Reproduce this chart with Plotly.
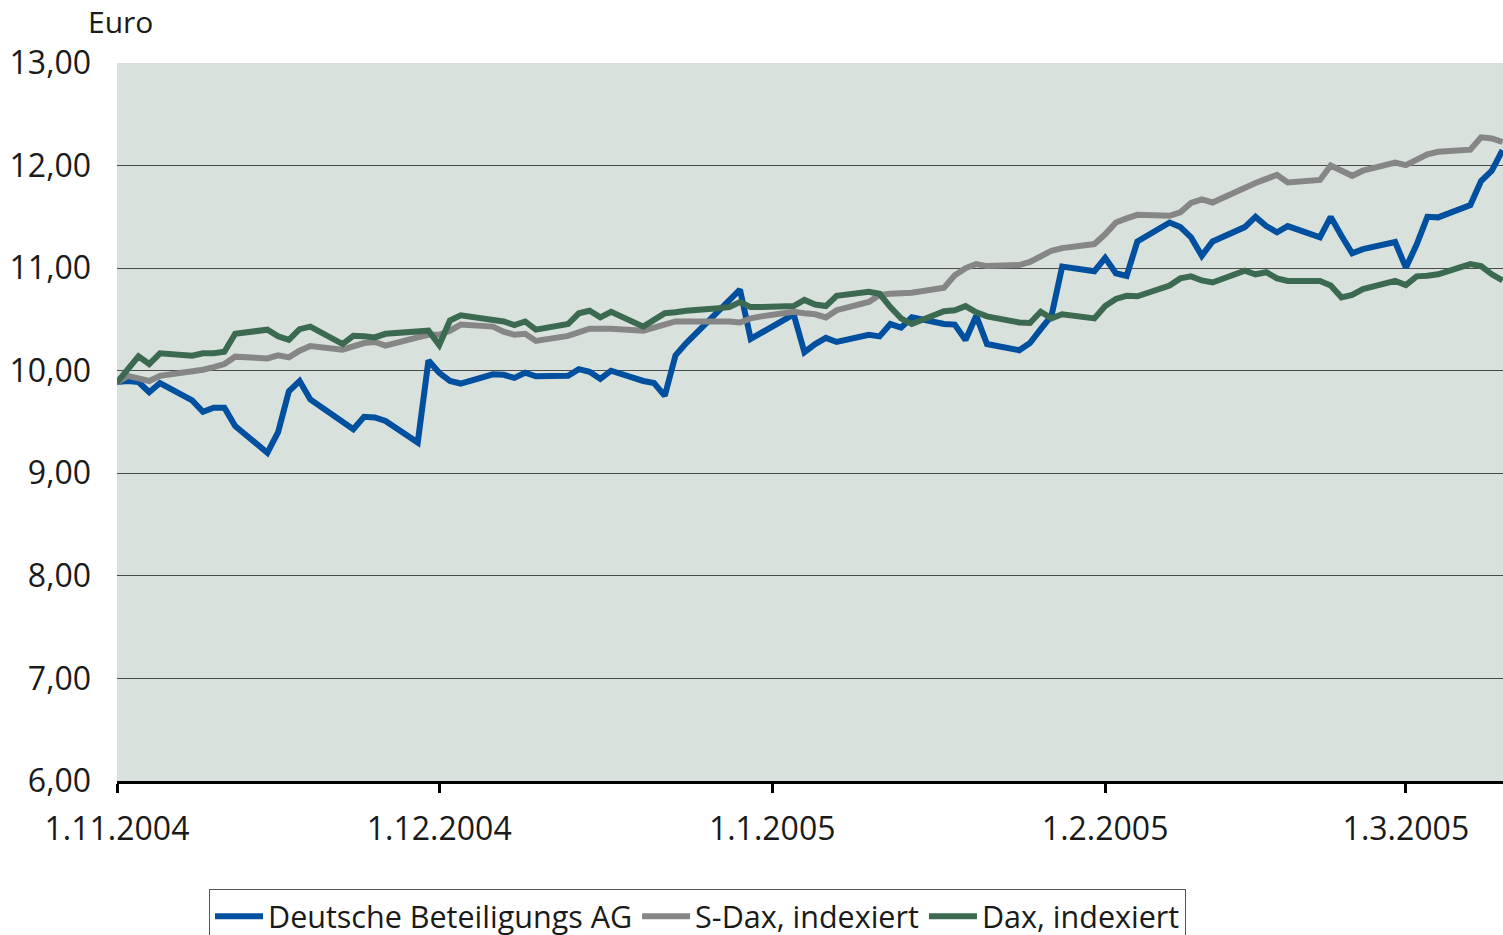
import plotly.graph_objects as go
import pandas as pd

# trading days 1.11.2004 - 10.3.2005
dates = pd.bdate_range("2004-11-01", "2005-03-10")

dbag = [
    # Nov
    9.89, 9.90, 9.89, 9.79, 9.88, 9.71, 9.60, 9.64, 9.64, 9.46, 9.20, 9.40, 9.80, 9.90, 9.72,
    9.50, 9.43, 9.55, 9.545, 9.51, 9.30, 10.10,
    # Dec
    9.98, 9.90, 9.875, 9.965, 9.96, 9.93, 9.98, 9.945, 9.95, 10.015, 9.99, 9.92, 10.00,
    9.90, 9.88, 9.755, 10.15, 10.27, 10.58, 10.69, 10.79, 10.31, 10.37,
    # Jan
    10.55, 10.18, 10.26, 10.32, 10.28, 10.35, 10.335, 10.455, 10.42, 10.52, 10.455, 10.45,
    10.30, 10.535, 10.26, 10.20, 10.27, 10.405, 10.535, 11.015, 10.97,
    # Feb
    11.10, 10.95, 10.925, 11.26, 11.445, 11.40, 11.30, 11.12, 11.26, 11.40, 11.50, 11.41,
    11.35, 11.41, 11.30, 11.50, 11.315, 11.145, 11.185, 11.255,
    # Mar
    11.005, 11.23, 11.50, 11.495, 11.615, 11.85, 11.95, 12.15,
]

sdax = [
    9.886, 9.95, 9.925, 9.90, 9.95, 9.985, 10.01, 10.035, 10.065, 10.137, 10.12, 10.15, 10.13,
    10.195, 10.24, 10.205, 10.245, 10.27, 10.28, 10.245, 10.325, 10.35,
    10.35, 10.39, 10.45, 10.43, 10.38, 10.35, 10.36, 10.29, 10.34, 10.38, 10.41, 10.41, 10.41,
    10.39, 10.42, 10.455, 10.48, 10.48, 10.49, 10.48, 10.47, 10.51, 10.53,
    10.575, 10.56, 10.55, 10.52, 10.59, 10.67, 10.74, 10.75, 10.76, 10.76, 10.81, 10.93,
    11.00, 11.04, 11.02, 11.03, 11.06, 11.12, 11.17, 11.195, 11.235,
    11.33, 11.445, 11.485, 11.52, 11.51, 11.545, 11.635, 11.67, 11.64, 11.79, 11.83, 11.87,
    11.91, 11.835, 11.86, 12.00, 11.95, 11.90, 11.95, 12.03,
    12.005, 12.05, 12.11, 12.135, 12.155, 12.275, 12.265, 12.23,
]

dax = [
    9.886, 10.02, 10.14, 10.065, 10.17, 10.146, 10.17, 10.17, 10.185, 10.36, 10.40, 10.335,
    10.30, 10.405, 10.43, 10.26, 10.34, 10.335, 10.325, 10.36, 10.39, 10.39,
    10.25, 10.49, 10.54, 10.49, 10.48, 10.445, 10.48, 10.40, 10.455, 10.56, 10.585, 10.52,
    10.575, 10.43, 10.50, 10.56, 10.57, 10.585, 10.61, 10.62, 10.67, 10.62, 10.62,
    10.63, 10.69, 10.645, 10.63, 10.73, 10.77, 10.75, 10.62, 10.51, 10.455, 10.58, 10.59,
    10.63, 10.57, 10.53, 10.47, 10.465, 10.575, 10.51, 10.55, 10.51,
    10.63, 10.70, 10.73, 10.725, 10.83, 10.90, 10.92, 10.88, 10.86, 10.975, 10.94, 10.96,
    10.90, 10.875, 10.875, 10.83, 10.715, 10.74, 10.795, 10.875,
    10.835, 10.92, 10.925, 10.94, 11.04, 11.02, 10.94, 10.88,
]

series_names = ["Deutsche Beteiligungs AG", "S-Dax, indexiert", "Dax, indexiert"]
series_colors = ["#00509f", "#868686", "#3b6a50"]

tick_dates = ["2004-11-01", "2004-12-01", "2005-01-01", "2005-02-01", "2005-03-01"]
tick_labels = ["1.11.2004", "1.12.2004", "1.1.2005", "1.2.2005", "1.3.2005"]

FONT = "Open Sans"

fig = go.Figure()
for name, vals, col in zip(series_names, [dbag, sdax, dax], series_colors):
    fig.add_trace(go.Scatter(
        x=dates, y=vals, name=name, mode="lines",
        line=dict(color=col, width=6),
    ))

fig.update_layout(
    width=1503, height=935,
    margin=dict(l=117, r=0, t=63, b=154, autoexpand=False),
    paper_bgcolor="white",
    plot_bgcolor="#d9e1dc",
    separators=", ",
    font=dict(family=FONT, size=32, color="#1a1a1a"),
    showlegend=True,
    legend=dict(
        orientation="h",
        x=(209 - 117) / 1386, xanchor="left",
        y=(781 - 889) / 718, yanchor="top",
        bordercolor="#555555", borderwidth=1,
        font=dict(size=30.5),
        itemwidth=48,
        tracegroupgap=0,
    ),
    annotations=[dict(
        text="Euro", xref="paper", yref="paper",
        x=(120 - 117) / 1386, y=(781 - 21) / 718,
        xanchor="center", yanchor="middle",
        showarrow=False, font=dict(size=30),
    )],
)

fig.update_xaxes(
    type="date",
    range=["2004-11-01", "2005-03-10 01:00"],
    tickvals=tick_dates, ticktext=tick_labels,
    showgrid=False, showline=True, linecolor="black", linewidth=3,
    ticks="outside", ticklen=9, tickwidth=3, tickcolor="black",
    ticklabelstandoff=9,
)
fig.update_yaxes(
    range=[6, 13], dtick=1, tick0=6, tickformat=".2f",
    showgrid=True, gridcolor="#4a4a4a", gridwidth=1,
    zeroline=False, showline=False,
    ticks="", ticklabelstandoff=25,
)

# page body has a default margin; remove it so the figure sits at 0,0
fig.write_html("out.html", config={"displayModeBar": False},
               post_script="document.body.style.margin='0';")
